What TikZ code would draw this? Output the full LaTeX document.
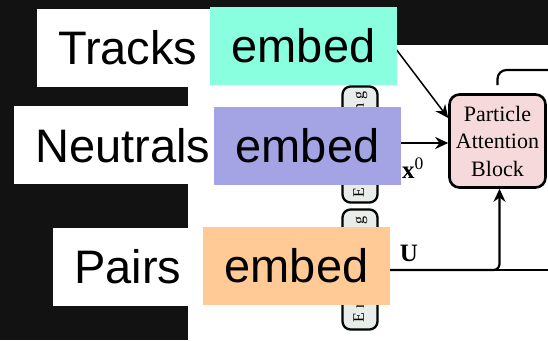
\documentclass[tikz,border=0pt]{standalone}
\usepackage{fontspec}
\setmainfont{Liberation Serif}
\newfontfamily\lblfont{Liberation Sans}
\newfontfamily\embfont[LetterSpace=25]{Liberation Serif}
\usetikzlibrary{positioning,arrows.meta}

\definecolor{bgdark}{HTML}{121212}
\definecolor{trackcol}{HTML}{8AFFE0}
\definecolor{neutcol}{HTML}{A4A4E4}
\definecolor{paircol}{HTML}{FFCA96}
\definecolor{blockpink}{HTML}{F6DADB}
\definecolor{embgray}{HTML}{E8EDEA}

\tikzset{
  lblbox/.style={fill=white, inner xsep=21pt, inner ysep=0pt, minimum height=78pt, anchor=west,
    font=\lblfont\fontsize{47}{50}\selectfont},
  embbox/.style={minimum width=187pt, minimum height=78pt, inner sep=0pt,
    font=\lblfont\fontsize{47}{50}\selectfont},
  embvert/.style={draw, line width=2.3pt, rounded corners=8pt, fill=embgray, rotate=90,
    minimum height=35pt, inner sep=0pt, font=\embfont\fontsize{16}{16}\selectfont},
  blockbox/.style={draw, line width=2.6pt, rounded corners=10pt, fill=blockpink, align=center,
    minimum width=96pt, minimum height=93pt, inner sep=0pt, font=\fontsize{22}{27.5}\selectfont},
  arr/.style={line width=2.2pt, -{Stealth[length=13pt,width=12pt]}},
  wire/.style={line width=2.2pt},
  mathlbl/.style={inner sep=0pt, font=\fontsize{25}{25}\selectfont}
}

\begin{document}
\begin{tikzpicture}[x=1pt,y=1pt]
    \useasboundingbox (0,0) rectangle (548,340);
    \fill[bgdark] (0,0) rectangle (548,340);
    \fill[white] (188,0) rectangle (548,295);

    % embedding columns and attention block
    \node[embvert, minimum width=116pt] (emba) at (360,195.5) {Embedding};
    \node[embvert, minimum width=120pt] (embb) at (360,70.5) {Embedding};
    \node[blockbox] (pab) at (497.5,199) {Particle\\Attention\\Block};

    \coordinate (tin) at (377,316);
    \coordinate (xin) at (390,197);
    \coordinate (uin) at (380,70);
    \coordinate (uout) at (548,70);
    \coordinate (outtop) at (548,270);

    \draw[arr, line width=1.5pt] (tin) -- ([yshift=23pt]pab.west);
    \draw[arr] (xin) -- (xin -| pab.west);
    \draw[wire] (uin) -- (uout);
    \draw[arr, rounded corners=6pt] (uin) -| ([xshift=2pt]pab.south);
    \draw[wire, rounded corners=9pt] ([yshift=8pt]pab.north) |- (outtop);

    \node[mathlbl] (xlbl) at (413,172) {\textbf{x}\textsuperscript{0}};
    \node[mathlbl] (ulbl) at (409,87) {\textbf{U}};

    % overlay labels
    \node[lblbox] (tracks) at (37,292) {Tracks};
    \node[embbox, fill=trackcol] (trackemb) at (303.5,294) {embed};
    \node[lblbox] (neutrals) at (14,194.5) {Neutrals};
    \node[embbox, fill=neutcol] (neutemb) at (307.5,194) {embed};
    \node[lblbox] (pairs) at (53,73) {Pairs};
    \node[embbox, fill=paircol] (pairemb) at (296.5,74) {embed};
\end{tikzpicture}
\end{document}
